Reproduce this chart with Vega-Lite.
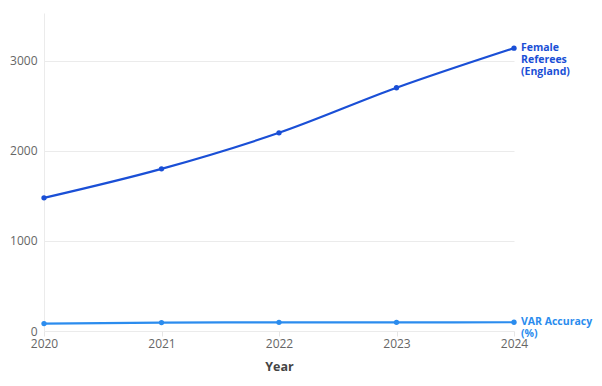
{
  "$schema": "https://vega.github.io/schema/vega-lite/v6.json",
  "autosize": {"type": "none"},
  "width": 470,
  "height": 318,
  "padding": {"left": 44, "top": 13, "right": 88, "bottom": 55},
  "background": "white",
  "config": {
    "font": "Open Sans",
    "view": {"stroke": null}
  },
  "data": {
    "values": [
      {"series": "Female Referees (England)", "year": 2020, "value": 1478},
      {"series": "Female Referees (England)", "year": 2021, "value": 1800},
      {"series": "Female Referees (England)", "year": 2022, "value": 2200},
      {"series": "Female Referees (England)", "year": 2023, "value": 2700},
      {"series": "Female Referees (England)", "year": 2024, "value": 3140},
      {"series": "VAR Accuracy (%)", "year": 2020, "value": 82},
      {"series": "VAR Accuracy (%)", "year": 2021, "value": 94},
      {"series": "VAR Accuracy (%)", "year": 2022, "value": 96},
      {"series": "VAR Accuracy (%)", "year": 2023, "value": 96},
      {"series": "VAR Accuracy (%)", "year": 2024, "value": 97}
    ]
  },
  "encoding": {
    "x": {
      "field": "year",
      "type": "quantitative",
      "scale": {"domain": [2020, 2024], "nice": false, "zero": false},
      "axis": {
        "title": "Year",
        "format": "d",
        "values": [2020, 2021, 2022, 2023, 2024],
        "grid": false,
        "domain": false,
        "ticks": true,
        "tickColor": "#e6e6e6",
        "tickSize": 5,
        "labelFlush": false,
        "labelFontSize": 12,
        "labelColor": "#666666",
        "labelPadding": 2,
        "titleFontSize": 12.5,
        "titleFontWeight": "bold",
        "titleColor": "#444444",
        "titlePadding": 11
      }
    },
    "y": {
      "field": "value",
      "type": "quantitative",
      "scale": {"domain": [0, 3530], "nice": false},
      "axis": {
        "title": null,
        "format": "d",
        "values": [0, 1000, 2000, 3000],
        "grid": true,
        "gridColor": "#ebebeb",
        "domain": true,
        "domainColor": "#ebebeb",
        "ticks": false,
        "labelFlush": false,
        "labelFontSize": 12,
        "labelColor": "#666666",
        "labelPadding": 7
      }
    },
    "color": {
      "field": "series",
      "type": "nominal",
      "scale": {
        "domain": ["Female Referees (England)", "VAR Accuracy (%)"],
        "range": ["#1a4fd6", "#2b8cee"]
      },
      "legend": null
    }
  },
  "layer": [
    {
      "mark": {"type": "line", "interpolate": "monotone", "strokeWidth": 2.2}
    },
    {
      "mark": {"type": "point", "filled": true, "size": 28, "opacity": 1}
    },
    {
      "transform": [
        {"filter": "datum.year == 2024"},
        {"calculate": "datum.series == 'VAR Accuracy (%)' ? 'VAR Accuracy\\n(%)' : 'Female\\nReferees\\n(England)'", "as": "lbl"}
      ],
      "mark": {
        "type": "text",
        "align": "left",
        "baseline": "middle",
        "dx": 7,
        "fontSize": 10.5,
        "fontWeight": "bold",
        "lineBreak": "\n",
        "lineHeight": 12
      },
      "encoding": {
        "text": {"field": "lbl"}
      }
    }
  ]
}
